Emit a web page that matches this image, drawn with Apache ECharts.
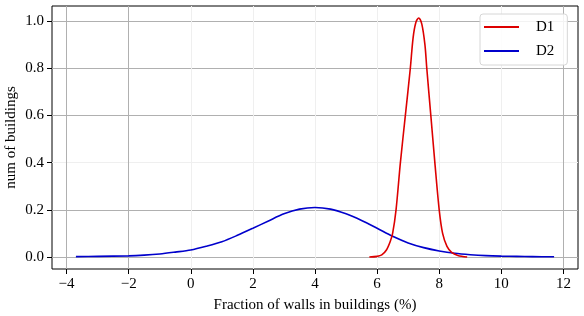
<!DOCTYPE html>
<html>
<head>
<meta charset="utf-8">
<script src="https://cdn.jsdelivr.net/npm/echarts@6/dist/echarts.min.js"></script>
<style>html,body{margin:0;padding:0;background:#fff;}#c{width:584px;height:316px;}</style>
</head>
<body>
<div id="c"></div>
<script>
var d1X = [5.75, 6.0, 6.15, 6.3, 6.42, 6.5, 6.61, 6.75, 6.91, 7.07, 7.16, 7.25, 7.34, 7.44, 7.54, 7.6, 7.73, 7.86, 8.0, 8.11, 8.25, 8.4, 8.6, 8.9];
var d1Y = [0.0, 0.003, 0.009, 0.03, 0.065, 0.10, 0.20, 0.40, 0.60, 0.80, 0.93, 0.995, 1.013, 0.987, 0.90, 0.80, 0.60, 0.40, 0.20, 0.10, 0.045, 0.02, 0.007, 0.0];
var d2X = [-3.7, -3, -2, -1.5, -1, -0.5, 0, 0.5, 1, 1.5, 2, 2.5, 3, 3.5, 4, 4.5, 5, 5.5, 6, 6.5, 7, 7.5, 8, 8.5, 9, 9.5, 10, 10.5, 11, 11.7];
var d2Y = [0.002, 0.003, 0.005, 0.008, 0.013, 0.021, 0.03, 0.046, 0.065, 0.092, 0.122, 0.153, 0.183, 0.203, 0.21, 0.203, 0.183, 0.155, 0.122, 0.088, 0.060, 0.040, 0.026, 0.016, 0.010, 0.006, 0.004, 0.003, 0.002, 0.001];
var xTicks = [-4, -2, 0, 2, 4, 6, 8, 10, 12];
var yTicks = [0, 0.2, 0.4, 0.6, 0.8, 1.0];
var seriesNames = ['D1', 'D2'];
var xName = 'Fraction of walls in buildings (%)';
var yName = 'num of buildings';

function zip(a, b) { return a.map(function (v, i) { return [v, b[i]]; }); }

var dark = '#b0b0b0', faint = '#efefef';
var xGridColors = xTicks.map(function (t) { return (t === -4 || t === -2 || t === 12) ? dark : faint; });
var yGridColors = yTicks.map(function (t) { return Math.abs(t - 0.4) < 1e-9 ? faint : dark; });
var font = 'Liberation Serif';

var chart = echarts.init(document.getElementById('c'), null, {renderer: 'canvas'});
chart.setOption({
  animation: false,
  grid: {left: 52, right: 6, top: 6, bottom: 47, containLabel: false, outerBoundsMode: 'none',
    show: true, borderColor: '#000', borderWidth: 1, backgroundColor: 'transparent'},
  legend: {
    orient: 'vertical', left: 480, top: 14,
    padding: [5, 13, 6, 4], itemGap: 8, itemWidth: 35, itemHeight: 2,
    backgroundColor: 'rgba(255,255,255,0.85)', borderColor: '#d6d6d6', borderWidth: 1, borderRadius: 3,
    textStyle: {fontFamily: font, fontSize: 15, color: '#000', lineHeight: 16, padding: [0, 0, 0, 12]},
    data: [{name: seriesNames[0], icon: 'rect'}, {name: seriesNames[1], icon: 'rect'}]
  },
  xAxis: {
    type: 'value', min: -4.47, max: 12.47,
    name: xName, nameLocation: 'middle', nameGap: 29, nameMoveOverlap: false,
    nameTextStyle: {fontFamily: font, fontSize: 15, color: '#000'},
    axisLine: {show: false, onZero: false},
    axisTick: {show: true, length: 5, inside: false, customValues: xTicks, lineStyle: {color: '#000', width: 1}},
    axisLabel: {customValues: xTicks, margin: 8, fontFamily: font, fontSize: 15, color: '#000',
      formatter: function (v) { return v < 0 ? '\u2212' + Math.abs(v) : String(v); }},
    splitLine: {show: true, lineStyle: {color: xGridColors, width: 1}}
  },
  yAxis: {
    type: 'value', min: -0.0506, max: 1.0636,
    name: yName, nameLocation: 'middle', nameGap: 33, nameRotate: 90, nameMoveOverlap: false,
    nameTextStyle: {fontFamily: font, fontSize: 15, color: '#000'},
    axisLine: {show: false, onZero: false},
    axisTick: {show: true, length: 5, inside: false, customValues: yTicks, lineStyle: {color: '#000', width: 1}},
    axisLabel: {customValues: yTicks, margin: 8, fontFamily: font, fontSize: 15, color: '#000',
      formatter: function (v) { return v.toFixed(1); }},
    splitLine: {show: true, lineStyle: {color: yGridColors, width: 1}}
  },
  series: [
    {name: seriesNames[0], type: 'line', data: zip(d1X, d1Y), showSymbol: false, smooth: 0.3,
      lineStyle: {color: '#dd0000', width: 1.6}, itemStyle: {color: '#dd0000'}, z: 3},
    {name: seriesNames[1], type: 'line', data: zip(d2X, d2Y), showSymbol: false, smooth: 0.3,
      lineStyle: {color: '#0000cc', width: 1.6}, itemStyle: {color: '#0000cc'}, z: 2}
  ]
});
</script>
</body>
</html>
